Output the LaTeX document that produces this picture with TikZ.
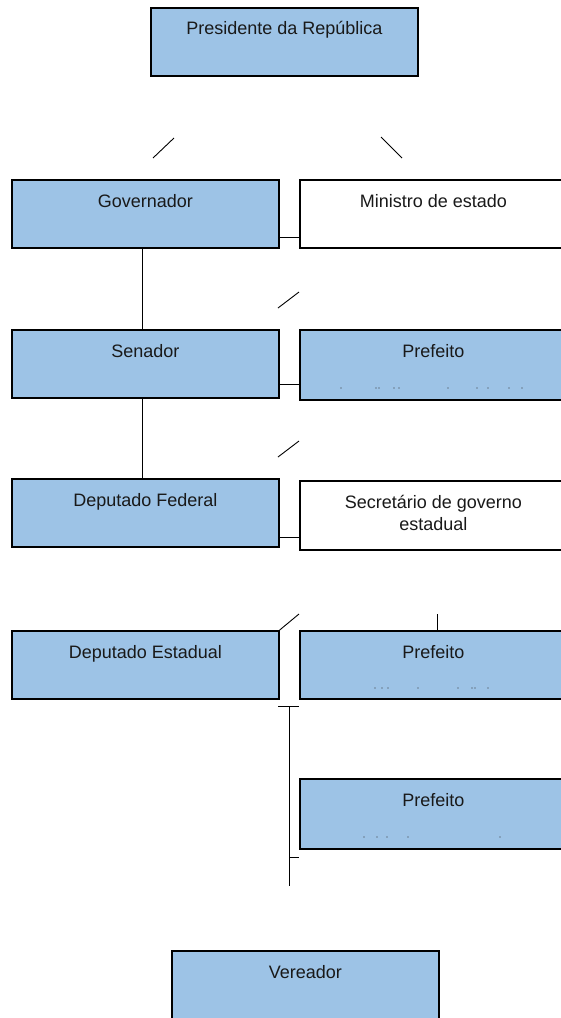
\documentclass[tikz,border=0pt]{standalone}
\usepackage{fontspec}
\setmainfont{Liberation Sans}
\definecolor{boxblue}{HTML}{9DC3E6}
\begin{document}
\begin{tikzpicture}[x=1pt,y=-1pt,
 box/.style={draw=black, line width=1.7pt, minimum width=267pt, minimum height=68pt, inner sep=0pt, anchor=north west},
 bbox/.style={box, fill=boxblue},
 wbox/.style={box, fill=white},
 lbl/.style={anchor=base, font=\fontsize{18}{22}\selectfont, inner sep=0pt, text=black!90, align=center},
 conn/.style={draw=black, line width=0.9pt},
 spot/.style={fill=black!80, circle, inner sep=0pt, minimum size=1.3pt}]
\fill[white] (0,0) rectangle (560,1018);
\useasboundingbox (0,0) rectangle (560,1018);
% boxes
\node[bbox] (pres) at (150,7) {};
\node[bbox] (gov) at (11,179) {};
\node[wbox] (min) at (299,179) {};
\node[bbox] (sen) at (11,329) {};
\node[bbox, minimum height=70pt] (pre1) at (299,329) {};
\node[bbox] (depf) at (11,478) {};
\node[wbox, minimum height=69pt] (sec) at (299,480) {};
\node[bbox] (depe) at (11,630) {};
\node[bbox] (pre2) at (299,630) {};
\node[bbox, minimum height=70pt] (pre3) at (299,778) {};
\node[bbox, minimum height=72pt] (ver) at (171,950) {};
% labels
\node[lbl] (tpres) at ([yshift=-27pt]pres.north) {Presidente da República};
\node[lbl] (tgov) at ([yshift=-28pt]gov.north) {Governador};
\node[lbl] (tmin) at ([yshift=-28pt]min.north) {Ministro de estado};
\node[lbl] (tsen) at ([yshift=-28pt]sen.north) {Senador};
\node[lbl] (tpre1) at ([yshift=-28pt]pre1.north) {Prefeito};
\node[lbl] (tdepf) at ([yshift=-28pt]depf.north) {Deputado Federal};
\node[lbl] (tsec) at ([yshift=-50pt]sec.north) {Secretário de governo\\estadual};
\node[lbl] (tdepe) at ([yshift=-28pt]depe.north) {Deputado Estadual};
\node[lbl] (tpre2) at ([yshift=-28pt]pre2.north) {Prefeito};
\node[lbl] (tpre3) at ([yshift=-28pt]pre3.north) {Prefeito};
\node[lbl] (tver) at ([yshift=-28pt]ver.north) {Vereador};
% remnant dots of clipped lines
\foreach \x in {341,376,379,394,399,448,477,488,509,522} \node[spot] at (\x,388) {};
\foreach \x in {375,382,388,418,458,472,475,488} \node[spot] at (\x,688) {};
\foreach \x in {364,377,387,408,500} \node[spot] at (\x,837) {};
% connectors
\draw[conn] ([yshift=11pt]gov.south east) -- ([yshift=11pt]gov.south east -| min.west);
\draw[conn] ([yshift=14pt]sen.south east) -- ([yshift=14pt]sen.south east -| pre1.west);
\draw[conn] ([yshift=10pt]depf.south east) -- ([yshift=10pt]depf.south east -| sec.west);
\draw[conn] ([xshift=-2.5pt]gov.south) -- ([xshift=-2.5pt]sen.north);
\draw[conn] ([xshift=-2.5pt]sen.south) -- ([xshift=-2.5pt]depf.north);
% stubs
\coordinate (s1a) at (153,158); \coordinate (s1b) at (174,138);
\coordinate (s2a) at (381,137); \coordinate (s2b) at (402,158);
\coordinate (s3a) at (278,308); \coordinate (s3b) at (299,292);
\coordinate (s4a) at (278,457); \coordinate (s4b) at (299,441);
\coordinate (s5b) at (299,614);
\coordinate (s6b) at (437,614);
\draw[conn] (s1a) -- (s1b);
\draw[conn] (s2a) -- (s2b);
\draw[conn] (s3a) -- (s3b);
\draw[conn] (s4a) -- (s4b);
\draw[conn] (depe.north east) -- (s5b);
\draw[conn] (s6b) -- (s6b |- pre2.north);
% T bracket
\coordinate (t1) at (278,706); \coordinate (t2) at (299,706);
\coordinate (t3) at (289,706); \coordinate (t4) at (289,886);
\coordinate (t5) at (289,857); \coordinate (t6) at (299,857);
\draw[conn] (t1) -- (t2);
\draw[conn] (t3) -- (t4);
\draw[conn] (t5) -- (t6);
\end{tikzpicture}
\end{document}
